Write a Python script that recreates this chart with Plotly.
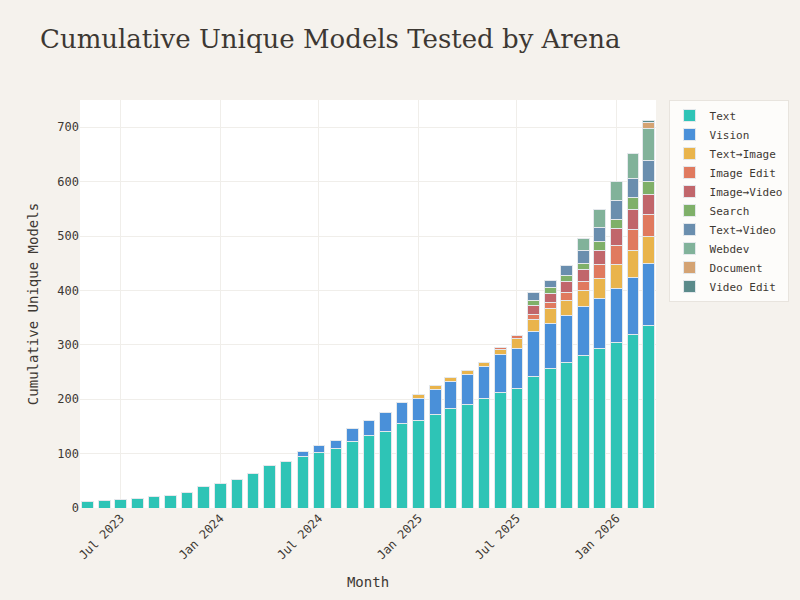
import plotly.graph_objects as go

months = [
    "2023-05-01", "2023-06-01", "2023-07-01", "2023-08-01", "2023-09-01",
    "2023-10-01", "2023-11-01", "2023-12-01", "2024-01-01", "2024-02-01",
    "2024-03-01", "2024-04-01", "2024-05-01", "2024-06-01", "2024-07-01",
    "2024-08-01", "2024-09-01", "2024-10-01", "2024-11-01", "2024-12-01",
    "2025-01-01", "2025-02-01", "2025-03-01", "2025-04-01", "2025-05-01",
    "2025-06-01", "2025-07-01", "2025-08-01", "2025-09-01", "2025-10-01",
    "2025-11-01", "2025-12-01", "2026-01-01", "2026-02-01", "2026-03-01",
]

# each series runs from its first month up to the last month
text = [12, 14, 16, 18, 21, 23, 28, 40, 45, 53, 63, 78, 86, 95, 102, 110, 122,
        134, 141, 156, 161, 172, 183, 191, 202, 213, 220, 242, 257, 268, 281,
        293, 304, 319, 336]
vision = [9, 13, 14, 24, 27, 35, 38, 40, 46, 50, 55, 58, 69, 73, 83, 82, 86,
          89, 92, 99, 105, 113]                     # from Jun 2024
text_image = [8, 7, 7, 7, 8, 10, 18, 22, 27, 28, 30, 36, 44, 49, 51]  # Jan 2025
image_edit = [3, 6, 8, 12, 14, 16, 27, 36, 39, 39]  # from Jun 2025
image_video = [17, 16, 20, 23, 26, 30, 37, 37]      # from Aug 2025
search = [9, 11, 12, 11, 15, 18, 21, 25]            # from Aug 2025
text_video = [15, 14, 18, 23, 26, 34, 36, 37]       # from Aug 2025
webdev = [22, 34, 36, 46, 59]                       # from Nov 2025
document = [12]                                     # Mar 2026
video_edit = [4]                                    # Mar 2026

series = [
    ("Text", text, "#2EC4B6"),
    ("Vision", vision, "#4A90D9"),
    ("Text→Image", text_image, "#E9B44C"),
    ("Image Edit", image_edit, "#E07A5F"),
    ("Image→Video", image_video, "#C1666B"),
    ("Search", search, "#7FB069"),
    ("Text→Video", text_video, "#6A8EAE"),
    ("Webdev", webdev, "#81B29A"),
    ("Document", document, "#D4A373"),
    ("Video Edit", video_edit, "#5A8A8A"),
]

mono = "DejaVu Sans Mono, monospace"
ink = "#3D3833"

fig = go.Figure()
for name, vals, color in series:
    fig.add_trace(
        go.Bar(
            x=months[len(months) - len(vals):],
            y=vals,
            name=name,
            marker=dict(color=color, line=dict(color="#E4E8EC", width=1)),
        )
    )

fig.update_layout(
    barmode="stack",
    bargap=0.25,
    width=800,
    height=600,
    paper_bgcolor="#F5F2ED",
    plot_bgcolor="#FFFFFF",
    margin=dict(l=80, r=143, t=100, b=92),
    title=dict(
        text="Cumulative Unique Models Tested by Arena",
        font=dict(family="Georgia, DejaVu Serif, serif", size=26, color=ink),
        x=0.05, xanchor="left", xref="container",
        y=0.935, yanchor="middle", yref="container",
    ),
    font=dict(family=mono, size=12, color=ink),
    legend=dict(
        x=1.02, xanchor="left", y=1, yanchor="top",
        traceorder="normal",
        bgcolor="#FDFCFA", bordercolor="#E8E4DE", borderwidth=1,
        font=dict(family=mono, size=11, color=ink),
    ),
    xaxis=dict(
        title=dict(text="Month", font=dict(family=mono, size=14, color=ink)),
        type="date",
        tick0="2023-07-01",
        dtick="M6",
        tickformat="%b %Y",
        tickangle=-45,
        gridcolor="#F0EEEA",
        showline=False,
        zeroline=False,
    ),
    yaxis=dict(
        title=dict(text="Cumulative Unique Models",
                   font=dict(family=mono, size=14, color=ink)),
        range=[0, 750],
        dtick=100,
        gridcolor="#F0EEEA",
        zeroline=False,
    ),
)

fig.write_html(
    "out.html",
    config={"displayModeBar": False},
    post_script="document.body.style.margin='0';",
)
